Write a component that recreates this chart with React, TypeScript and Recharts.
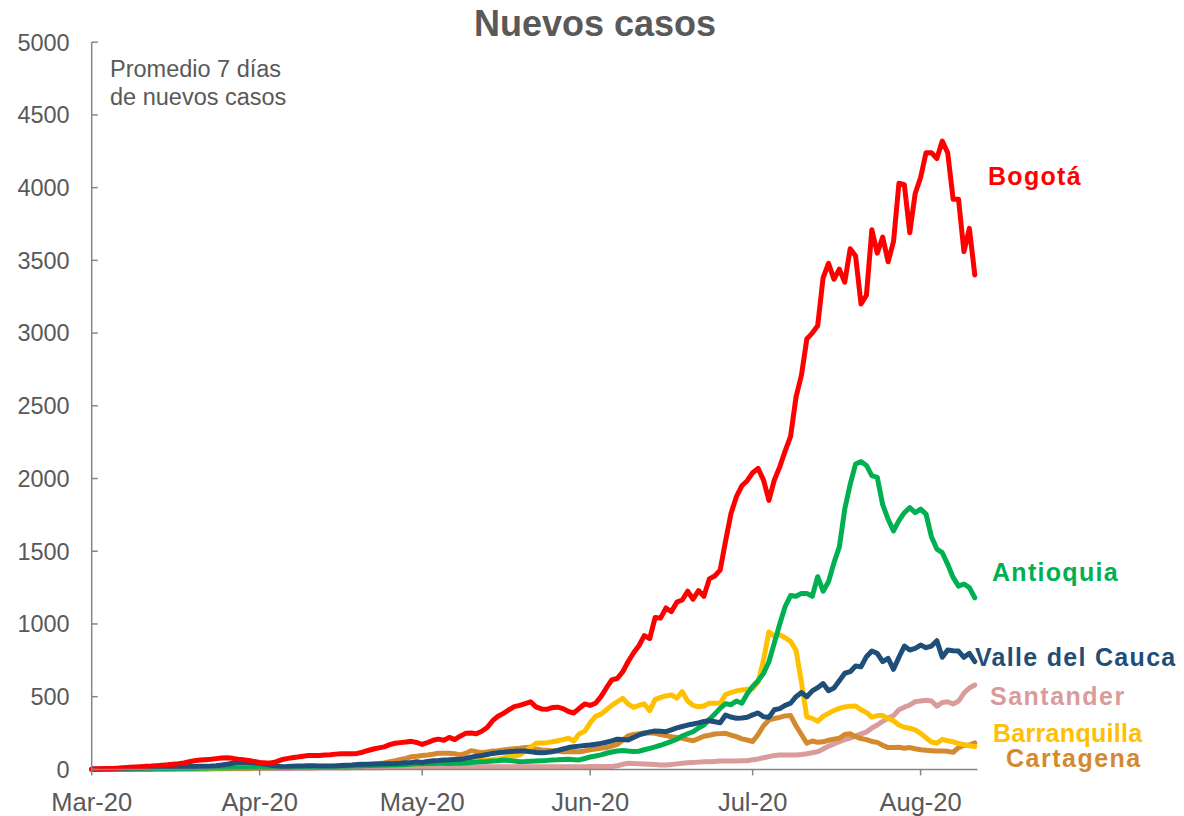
// Nuevos casos: 7-day average of new cases by city (Colombia, Mar–Aug 2020)
import { LineChart, Line, XAxis, YAxis } from "recharts";

// day index counted from 1 Mar 2020
const days = Array.from({ length: 164 }, (_, i) => i);

const monthTicks = [0, 31, 61, 92, 122, 153];
const monthLabels = ["Mar-20", "Apr-20", "May-20", "Jun-20", "Jul-20", "Aug-20"];
const yTicks = [0, 500, 1000, 1500, 2000, 2500, 3000, 3500, 4000, 4500, 5000];

const bogota = [
  3, 4, 5, 6, 7, 9, 12, 15, 17, 19,
  21, 23, 26, 29, 32, 36, 39, 45, 53, 60,
  64, 67, 70, 74, 78, 80, 76, 70, 66, 62,
  55, 47, 45, 44, 52, 66, 74, 80, 85, 91,
  96, 96, 96, 99, 101, 105, 108, 108, 107, 110,
  118, 130, 140, 148, 155, 170, 180, 184, 188, 193,
  185, 172, 185, 200, 208, 200, 220, 205, 228, 248,
  250, 245, 262, 288, 335, 365, 385, 410, 432, 440,
  452, 465, 430, 416, 413, 425, 428, 418, 398, 388,
  420, 450, 440, 455, 500, 560, 615, 625, 670, 740,
  800, 850, 920, 900, 1045, 1040, 1110, 1085, 1150, 1165,
  1225, 1170, 1230, 1190, 1310, 1330, 1370, 1570, 1760, 1875,
  1950, 1985, 2040, 2070, 1990, 1850, 1990, 2080, 2190, 2290,
  2560, 2710, 2960, 3000, 3050, 3380, 3480, 3370, 3440, 3350,
  3580, 3530, 3200, 3260, 3710, 3550, 3660, 3490, 3630, 4030,
  4020, 3690, 3960, 4070, 4240, 4240, 4200, 4320, 4240, 3920,
  3920, 3560, 3720, 3400,
];

const antioquia = [
  0, 0, 0, 0, 0, 1, 1, 1, 2, 2,
  3, 3, 4, 4, 5, 5, 6, 6, 7, 7,
  8, 8, 9, 9, 10, 10, 11, 11, 12, 12,
  13, 13, 13, 14, 14, 14, 15, 15, 16, 16,
  17, 17, 18, 18, 19, 20, 21, 22, 23, 24,
  25, 26, 27, 28, 29, 30, 31, 32, 34, 36,
  38, 39, 40, 41, 42, 42, 41, 42, 42, 44,
  48, 50, 52, 54, 57, 60, 64, 62, 57, 53,
  54, 56, 58, 60, 62, 65, 66, 68, 69, 67,
  65, 75, 85, 92, 100, 111, 120, 127, 130, 126,
  123, 125, 135, 145, 155, 166, 179, 192, 207, 230,
  245, 259, 285, 305, 345, 380, 420, 452, 445, 470,
  455, 520, 570, 610, 660, 740, 870, 1000, 1120, 1195,
  1190, 1210, 1210, 1190, 1325, 1225, 1290, 1420, 1530, 1790,
  1960, 2100, 2116, 2090, 2020, 2008, 1820, 1720, 1640, 1710,
  1765, 1800, 1765, 1790, 1755, 1600, 1515, 1490, 1410, 1320,
  1260, 1275, 1250, 1180,
];

const valle = [
  2, 3, 4, 5, 6, 7, 8, 9, 10, 11,
  12, 13, 14, 15, 16, 17, 18, 19, 20, 20,
  21, 22, 23, 25, 30, 36, 42, 47, 49, 48,
  46, 42, 36, 30, 24, 19, 20, 22, 23, 24,
  25, 25, 24, 23, 23, 24, 26, 28, 30, 33,
  35, 36, 37, 37, 38, 39, 40, 42, 45, 48,
  52, 48, 55, 60, 62, 65, 66, 68, 69, 76,
  83, 90, 96, 103, 110, 115, 118, 122, 124, 127,
  127, 122, 116, 115, 117, 122, 130, 140, 150, 156,
  160, 164, 168, 173, 179, 187, 196, 208, 205, 202,
  220, 237, 248, 258, 264, 262, 259, 272, 285, 295,
  305, 312, 320, 330, 335, 328, 321, 374, 360, 351,
  354, 358, 375, 388, 362, 358, 410, 418, 440, 455,
  500, 528, 500, 540, 562, 590, 541, 560, 610, 661,
  672, 711, 706, 775, 814, 798, 741, 764, 688, 771,
  848, 821, 832, 855, 837, 848, 885, 771, 821, 816,
  814, 771, 798, 741,
];

const santander = [
  0, 0, 0, 0, 0, 0, 0, 0, 0, 0,
  1, 1, 1, 1, 1, 2, 2, 2, 2, 3,
  3, 3, 3, 4, 4, 4, 5, 5, 5, 5,
  6, 6, 6, 6, 7, 7, 7, 7, 8, 8,
  8, 8, 9, 9, 9, 10, 10, 10, 11, 11,
  11, 12, 12, 12, 13, 13, 13, 14, 14, 14,
  15, 15, 15, 16, 16, 16, 17, 17, 17, 17,
  18, 18, 18, 18, 18, 19, 19, 19, 19, 19,
  19, 19, 19, 19, 19, 19, 19, 19, 19, 19,
  19, 19, 20, 20, 20, 20, 20, 25, 35, 42,
  40, 38, 37, 35, 33, 31, 30, 34, 38, 42,
  45, 48, 50, 52, 53, 55, 57, 58, 58, 58,
  59, 60, 66, 72, 80, 88, 96, 99, 99, 99,
  99, 102, 108, 115, 122, 140, 160, 175, 190, 205,
  215, 230, 245, 257, 285, 305, 330, 351, 370, 410,
  428, 443, 465, 471, 475, 470, 435, 460, 465, 450,
  470, 525, 560, 580,
];

const barranquilla = [
  0, 0, 0, 0, 0, 0, 1, 1, 1, 1,
  2, 2, 2, 3, 3, 3, 4, 4, 5, 5,
  6, 6, 7, 7, 8, 8, 9, 9, 10, 10,
  11, 11, 12, 12, 13, 13, 14, 15, 16, 17,
  18, 19, 20, 21, 22, 23, 24, 25, 26, 27,
  28, 29, 30, 31, 32, 33, 34, 35, 36, 36,
  37, 38, 40, 42, 45, 48, 51, 53, 55, 57,
  59, 61, 63, 65, 68, 72, 78, 85, 92, 99,
  125, 150, 179, 182, 184, 190, 197, 205, 214, 195,
  245, 262, 320, 365, 380, 410, 440, 465, 489, 450,
  427, 440, 450, 404, 482, 495, 505, 512, 490, 534,
  470, 440, 431, 436, 454, 454, 454, 515, 528, 540,
  546, 551, 556, 600, 752, 945, 915, 925, 905, 880,
  820, 600, 360, 351, 330, 365, 385, 405, 420, 430,
  435, 436, 410, 392, 360, 370, 370, 350, 335, 305,
  290, 283, 272, 248, 218, 188, 180, 207, 197, 190,
  178, 170, 162, 157,
];

const cartagena = [
  0, 0, 0, 0, 0, 0, 0, 0, 1, 1,
  1, 1, 2, 2, 2, 3, 3, 3, 4, 4,
  5, 5, 6, 6, 7, 7, 8, 8, 9, 9,
  10, 10, 11, 11, 12, 12, 13, 13, 14, 15,
  16, 17, 18, 19, 20, 21, 22, 24, 26, 28,
  30, 33, 36, 40, 45, 53, 60, 68, 76, 87,
  90, 95, 99, 104, 111, 111, 111, 108, 100, 110,
  129, 122, 115, 120, 126, 129, 134, 138, 142, 145,
  150, 152, 140, 133, 131, 129, 126, 122, 122, 122,
  122, 127, 135, 140, 145, 150, 160, 172, 200, 230,
  240, 245, 252, 250, 248, 240, 232, 225, 220, 214,
  205, 197, 212, 228, 235, 243, 246, 248, 236, 225,
  210, 202, 192, 240, 300, 340, 350, 358, 368, 370,
  300, 240, 180, 195, 186, 190, 200, 208, 214, 240,
  245, 225, 212, 205, 192, 186, 165, 150, 150, 152,
  145, 150, 142, 135, 131, 129, 127, 127, 124, 118,
  150, 166, 168, 182,
];

const chartData = days.map((day, i) => ({
  day,
  bogota: bogota[i],
  antioquia: antioquia[i],
  valle: valle[i],
  santander: santander[i],
  barranquilla: barranquilla[i],
  cartagena: cartagena[i],
}));

// drawing order: first = bottom
const SERIES = [
  { key: "santander", name: "Santander", color: "#DA9B9B" },
  { key: "cartagena", name: "Cartagena", color: "#D4892F" },
  { key: "barranquilla", name: "Barranquilla", color: "#FFC000" },
  { key: "antioquia", name: "Antioquia", color: "#00B050" },
  { key: "valle", name: "Valle del Cauca", color: "#1F4E79" },
  { key: "bogota", name: "Bogotá", color: "#FF0000" },
];

// end labels, page coords (x = left edge, y = baseline)
const LABEL_POS: Record<string, { x: number; y: number; ls: number }> = {
  bogota: { x: 988, y: 185, ls: 1.3 },
  antioquia: { x: 992, y: 581, ls: 1.3 },
  valle: { x: 975, y: 666, ls: 1.3 },
  santander: { x: 990, y: 705, ls: 1.5 },
  barranquilla: { x: 993, y: 741.5, ls: 0.3 },
  cartagena: { x: 1006, y: 766.5, ls: 1.5 },
};

const FONT = '"Liberation Sans", Arial, Helvetica, sans-serif';
const GRAY = "#595959";
const AXIS = "#868686";
const W = 1184;
const H = 816;

export default function App() {
  return (
    <div
      style={{
        position: "absolute",
        left: 0,
        top: 0,
        width: W,
        height: H,
        fontFamily: FONT,
        background: "#fff",
      }}
    >
      <LineChart
        width={W}
        height={H}
        data={chartData}
        margin={{ top: 42.2, right: 206.5, bottom: 16.6, left: 11.7 }}
      >
        <XAxis
          dataKey="day"
          type="number"
          domain={[0, 163.5]}
          ticks={monthTicks}
          interval={0}
          tickFormatter={(v: number) => monthLabels[monthTicks.indexOf(v)] ?? ""}
          height={30}
          stroke={AXIS}
          strokeWidth={1.5}
          tickSize={6}
          tickMargin={17}
          tick={{ fill: GRAY, fontSize: 25.5, fontFamily: FONT }}
        />
        <YAxis
          type="number"
          domain={[0, 5000]}
          ticks={yTicks}
          interval={0}
          width={80}
          stroke={AXIS}
          strokeWidth={1.5}
          tickSize={-6}
          tickMargin={28}
          tick={{ fill: GRAY, fontSize: 23.5, fontFamily: FONT }}
        />
        {SERIES.map((s) => (
          <Line
            key={s.key}
            type="linear"
            dataKey={s.key}
            name={s.name}
            stroke={s.color}
            strokeWidth={5}
            strokeLinejoin="round"
            strokeLinecap="round"
            dot={false}
            activeDot={false}
            isAnimationActive={false}
          />
        ))}
      </LineChart>

      {/* title, note and end labels */}
      <svg
        width={W}
        height={H}
        style={{ position: "absolute", left: 0, top: 0, pointerEvents: "none" }}
      >
        <text
          x={595}
          y={36}
          textAnchor="middle"
          fill={GRAY}
          fontSize={36}
          fontWeight="bold"
          fontFamily={FONT}
        >
          Nuevos casos
        </text>
        <text x={110} y={77} fill={GRAY} fontSize={23.5} fontFamily={FONT}>
          Promedio 7 días
        </text>
        <text x={110} y={105} fill={GRAY} fontSize={23.5} fontFamily={FONT}>
          de nuevos casos
        </text>
        {SERIES.map((s) => (
          <text
            key={s.key}
            x={LABEL_POS[s.key].x}
            y={LABEL_POS[s.key].y}
            fill={s.color}
            fontSize={25}
            fontWeight="bold"
            letterSpacing={LABEL_POS[s.key].ls}
            fontFamily={FONT}
          >
            {s.name}
          </text>
        ))}
      </svg>
    </div>
  );
}
